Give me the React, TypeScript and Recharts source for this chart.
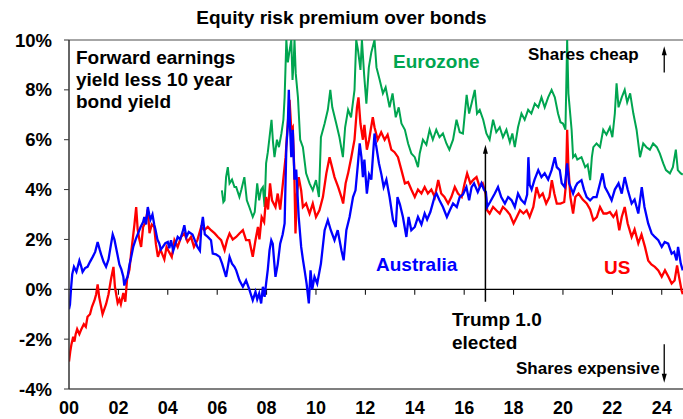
import React from "react";
import { LineChart, Line, XAxis, YAxis, ReferenceLine, ReferenceDot } from "recharts";

// ---- data (decimal year, % premium) ----
const australia: [number, number][] = [
  [2000.0, -0.8], [2000.04, -0.6], [2000.08, 0.0], [2000.13, 0.6], [2000.2, 0.9], [2000.3, 0.7], [2000.42, 1.15], [2000.5, 0.9],
  [2000.55, 0.7], [2000.65, 0.85], [2000.75, 0.9], [2000.85, 1.1], [2000.96, 1.3], [2001.06, 1.5], [2001.16, 1.9], [2001.24, 1.6],
  [2001.3, 1.4], [2001.4, 1.1], [2001.5, 0.9], [2001.6, 1.2], [2001.7, 1.8], [2001.77, 2.2], [2001.84, 2.0], [2001.9, 1.7],
  [2002.04, 1.0], [2002.12, 0.8], [2002.2, 0.5], [2002.24, 0.15], [2002.3, 0.35], [2002.37, 0.5], [2002.45, 1.0], [2002.5, 1.2],
  [2002.6, 1.7], [2002.7, 2.0], [2002.78, 2.2], [2002.9, 2.5], [2003.0, 2.7], [2003.05, 2.9], [2003.12, 2.6], [2003.19, 3.3],
  [2003.25, 3.0], [2003.3, 2.8], [2003.38, 3.0], [2003.45, 2.6], [2003.5, 2.4], [2003.58, 2.0], [2003.65, 1.85], [2003.72, 1.6],
  [2003.8, 1.7], [2003.9, 1.85], [2004.0, 1.9], [2004.06, 1.65], [2004.13, 1.97], [2004.22, 1.55], [2004.3, 1.8], [2004.4, 2.1],
  [2004.5, 2.0], [2004.6, 2.3], [2004.67, 2.57], [2004.75, 2.1], [2004.85, 2.3], [2005.0, 2.2], [2005.1, 1.95], [2005.2, 1.7],
  [2005.3, 1.55], [2005.36, 2.5], [2005.42, 2.9], [2005.5, 2.2], [2005.62, 2.1], [2005.75, 1.97], [2005.82, 1.43], [2005.95, 1.4],
  [2006.1, 1.3], [2006.2, 1.03], [2006.3, 0.7], [2006.36, 0.5], [2006.43, 0.9], [2006.5, 1.3], [2006.6, 1.03], [2006.7, 0.9],
  [2006.77, 0.76], [2006.9, 0.36], [2007.04, 0.1], [2007.17, 0.36], [2007.3, 0.0], [2007.44, -0.44], [2007.55, -0.1], [2007.62, -0.4],
  [2007.7, -0.17], [2007.78, -0.57], [2007.85, 0.1], [2007.92, -0.3], [2007.98, 0.23], [2008.05, 0.8], [2008.12, 1.57], [2008.19, 1.97],
  [2008.25, 1.83], [2008.3, 1.2], [2008.36, 0.5], [2008.45, 1.0], [2008.55, 1.83], [2008.65, 2.2], [2008.73, 2.64], [2008.8, 5.7],
  [2008.86, 6.6], [2008.9, 8.0], [2008.95, 6.5], [2009.0, 5.3], [2009.06, 6.4], [2009.13, 4.4], [2009.2, 4.8], [2009.3, 2.9],
  [2009.4, 1.7], [2009.47, 1.2], [2009.54, 0.76], [2009.62, 0.23], [2009.71, -0.57], [2009.78, 0.76], [2009.85, 0.0], [2009.94, 0.5],
  [2010.05, 0.23], [2010.2, 1.03], [2010.35, 2.37], [2010.48, 2.77], [2010.6, 2.37], [2010.75, 1.97], [2010.88, 2.37], [2011.03, 1.57],
  [2011.12, 1.16], [2011.23, 2.37], [2011.36, 2.9], [2011.5, 3.7], [2011.6, 3.97], [2011.7, 5.05], [2011.77, 5.85], [2011.84, 5.3],
  [2011.9, 4.5], [2011.96, 5.2], [2012.06, 3.84], [2012.15, 4.6], [2012.24, 4.4], [2012.37, 6.25], [2012.43, 5.8], [2012.55, 5.05],
  [2012.65, 4.6], [2012.74, 4.1], [2012.85, 4.4], [2012.98, 3.7], [2013.12, 2.77], [2013.23, 2.5], [2013.3, 3.7], [2013.4, 3.4],
  [2013.52, 2.9], [2013.66, 2.1], [2013.75, 2.9], [2013.86, 2.37], [2014.0, 2.5], [2014.13, 2.9], [2014.27, 2.6], [2014.4, 3.04],
  [2014.5, 2.8], [2014.63, 3.1], [2014.8, 3.7], [2014.88, 3.84], [2015.0, 3.57], [2015.14, 3.3], [2015.3, 2.9], [2015.42, 3.17],
  [2015.55, 3.44], [2015.7, 3.3], [2015.82, 3.7], [2015.95, 3.8], [2016.09, 4.1], [2016.2, 3.57], [2016.3, 4.1], [2016.4, 4.25],
  [2016.55, 3.9], [2016.7, 4.25], [2016.8, 4.0], [2016.88, 3.9], [2016.93, 3.3], [2017.05, 3.5], [2017.24, 3.84], [2017.37, 4.1],
  [2017.5, 3.7], [2017.65, 3.44], [2017.78, 3.7], [2017.92, 3.57], [2018.05, 3.3], [2018.18, 3.84], [2018.3, 3.6], [2018.45, 3.44],
  [2018.55, 3.8], [2018.6, 5.3], [2018.65, 4.2], [2018.73, 4.0], [2018.85, 4.4], [2019.0, 4.78], [2019.13, 4.5], [2019.26, 4.65],
  [2019.4, 4.4], [2019.54, 4.78], [2019.67, 5.3], [2019.75, 4.9], [2019.87, 4.78], [2019.95, 4.25], [2020.07, 4.1], [2020.17, 5.05],
  [2020.25, 4.25], [2020.35, 4.0], [2020.41, 3.84], [2020.5, 4.1], [2020.58, 4.25], [2020.75, 4.38], [2020.85, 4.0], [2020.96, 3.7],
  [2021.1, 3.57], [2021.23, 3.7], [2021.36, 3.7], [2021.5, 4.25], [2021.6, 4.65], [2021.7, 4.1], [2021.84, 3.84], [2021.97, 3.57],
  [2022.1, 4.0], [2022.25, 4.25], [2022.38, 3.84], [2022.5, 4.5], [2022.62, 4.0], [2022.78, 3.44], [2022.9, 3.6], [2023.05, 3.04],
  [2023.19, 4.1], [2023.3, 3.3], [2023.45, 2.64], [2023.59, 2.24], [2023.72, 2.1], [2023.86, 1.97], [2024.0, 1.7], [2024.12, 1.9],
  [2024.26, 1.83], [2024.4, 1.43], [2024.5, 1.5], [2024.6, 1.16], [2024.66, 1.7], [2024.77, 1.03], [2024.85, 0.76],
];

const us: [number, number][] = [
  [2000.0, -2.9], [2000.05, -2.5], [2000.1, -2.2], [2000.17, -1.9], [2000.22, -2.1], [2000.27, -1.8], [2000.33, -1.6], [2000.42, -1.8],
  [2000.5, -1.6], [2000.6, -1.4], [2000.68, -1.5], [2000.75, -1.1], [2000.85, -1.0], [2000.93, -0.7], [2001.03, -0.45], [2001.1, -0.2],
  [2001.16, 0.2], [2001.22, -0.3], [2001.3, -0.7], [2001.36, -1.0], [2001.43, -0.8], [2001.5, -0.6], [2001.6, -0.2], [2001.7, 0.4],
  [2001.8, 0.9], [2001.86, 0.1], [2001.97, -0.55], [2002.04, -0.4], [2002.1, -0.6], [2002.2, -0.15], [2002.28, -0.5], [2002.35, 0.4],
  [2002.45, 0.8], [2002.52, 1.5], [2002.58, 2.0], [2002.65, 2.6], [2002.72, 3.3], [2002.78, 2.4], [2002.85, 2.0], [2002.92, 1.7],
  [2003.0, 2.5], [2003.1, 2.7], [2003.19, 3.2], [2003.26, 2.25], [2003.35, 2.6], [2003.45, 2.5], [2003.52, 1.8], [2003.6, 1.3],
  [2003.7, 1.6], [2003.86, 1.2], [2003.95, 1.7], [2004.05, 1.5], [2004.16, 1.3], [2004.27, 1.97], [2004.4, 1.7], [2004.54, 2.1],
  [2004.67, 2.24], [2004.8, 1.9], [2004.94, 2.1], [2005.06, 1.7], [2005.2, 1.97], [2005.35, 2.5], [2005.48, 2.37], [2005.62, 2.5],
  [2005.75, 2.37], [2005.9, 2.24], [2006.03, 2.1], [2006.16, 1.97], [2006.3, 1.57], [2006.4, 1.97], [2006.5, 2.24], [2006.63, 2.0],
  [2006.77, 2.1], [2006.9, 2.24], [2007.04, 2.37], [2007.17, 1.97], [2007.3, 1.97], [2007.44, 1.3], [2007.55, 1.97], [2007.65, 2.5],
  [2007.71, 2.0], [2007.8, 2.9], [2007.9, 2.7], [2007.98, 3.7], [2008.06, 3.2], [2008.14, 4.25], [2008.22, 3.57], [2008.36, 3.3],
  [2008.45, 3.84], [2008.55, 3.2], [2008.66, 4.25], [2008.77, 5.3], [2008.84, 6.4], [2008.93, 7.6], [2009.0, 6.4], [2009.06, 6.5],
  [2009.12, 4.8], [2009.17, 2.24], [2009.22, 3.7], [2009.3, 4.5], [2009.4, 3.97], [2009.47, 3.3], [2009.6, 3.44], [2009.74, 3.04],
  [2009.87, 3.44], [2010.0, 2.9], [2010.14, 3.17], [2010.28, 3.7], [2010.42, 4.65], [2010.55, 5.3], [2010.65, 4.9], [2010.75, 4.5],
  [2010.9, 4.1], [2011.03, 3.7], [2011.1, 3.44], [2011.2, 4.25], [2011.3, 4.65], [2011.43, 5.3], [2011.56, 6.0], [2011.66, 7.3],
  [2011.72, 7.7], [2011.8, 6.65], [2011.9, 6.0], [2011.96, 6.6], [2012.06, 5.6], [2012.15, 6.0], [2012.3, 6.9], [2012.37, 6.5],
  [2012.5, 6.0], [2012.64, 6.3], [2012.78, 6.0], [2012.9, 6.2], [2013.05, 5.6], [2013.18, 5.5], [2013.32, 5.3], [2013.46, 4.78],
  [2013.6, 4.25], [2013.73, 4.3], [2013.86, 4.0], [2014.0, 3.7], [2014.13, 4.0], [2014.27, 3.84], [2014.4, 4.1], [2014.53, 3.84],
  [2014.67, 4.0], [2014.81, 3.7], [2014.95, 4.38], [2015.07, 3.84], [2015.2, 3.7], [2015.35, 3.44], [2015.48, 3.7], [2015.62, 4.1],
  [2015.75, 3.84], [2015.9, 3.7], [2016.02, 4.25], [2016.12, 4.65], [2016.25, 4.25], [2016.38, 4.4], [2016.5, 4.5], [2016.63, 4.1],
  [2016.75, 4.25], [2016.87, 3.84], [2016.93, 3.17], [2017.03, 3.04], [2017.17, 3.3], [2017.3, 3.17], [2017.44, 3.04], [2017.57, 3.3],
  [2017.71, 3.17], [2017.85, 3.0], [2018.0, 2.64], [2018.13, 2.9], [2018.26, 3.17], [2018.4, 3.04], [2018.53, 3.17], [2018.65, 2.9],
  [2018.8, 3.3], [2018.93, 4.1], [2019.05, 3.7], [2019.18, 3.84], [2019.32, 3.44], [2019.45, 3.7], [2019.55, 4.38], [2019.65, 3.84],
  [2019.75, 3.44], [2019.9, 3.44], [2020.05, 3.5], [2020.12, 4.2], [2020.17, 6.4], [2020.22, 4.9], [2020.3, 3.7], [2020.41, 3.04],
  [2020.5, 3.7], [2020.63, 3.84], [2020.8, 3.6], [2020.96, 3.44], [2021.1, 3.2], [2021.23, 2.77], [2021.37, 2.9], [2021.5, 3.3],
  [2021.64, 3.04], [2021.77, 3.04], [2021.9, 3.1], [2022.04, 2.9], [2022.16, 3.1], [2022.28, 2.37], [2022.38, 2.9], [2022.5, 3.3],
  [2022.62, 2.64], [2022.78, 2.1], [2022.9, 2.4], [2023.05, 1.84], [2023.18, 2.2], [2023.32, 1.7], [2023.45, 1.16], [2023.58, 1.0],
  [2023.72, 0.9], [2023.86, 0.76], [2024.0, 0.5], [2024.13, 0.76], [2024.27, 0.5], [2024.4, 0.23], [2024.52, 0.35], [2024.62, 0.96],
  [2024.7, 0.5], [2024.8, -0.04], [2024.85, -0.2],
];

const eurozone: [number, number][] = [
  [2006.19, 3.97], [2006.25, 3.5], [2006.3, 3.57], [2006.36, 4.5], [2006.43, 4.9], [2006.5, 4.25], [2006.6, 4.4], [2006.7, 4.1],
  [2006.77, 4.1], [2006.9, 3.7], [2006.98, 4.0], [2007.1, 4.5], [2007.2, 3.57], [2007.3, 3.3], [2007.44, 2.9], [2007.52, 3.1],
  [2007.62, 4.25], [2007.7, 3.57], [2007.78, 4.0], [2007.85, 4.1], [2007.92, 3.3], [2007.98, 5.05], [2008.05, 5.5], [2008.12, 6.1],
  [2008.2, 6.8], [2008.26, 5.9], [2008.32, 5.3], [2008.42, 6.0], [2008.5, 5.7], [2008.6, 6.25], [2008.68, 6.8], [2008.73, 7.7],
  [2008.8, 10.0], [2008.86, 9.1], [2008.92, 9.5], [2009.0, 10.0], [2009.05, 8.4], [2009.1, 9.2], [2009.13, 10.0], [2009.18, 8.66],
  [2009.27, 7.7], [2009.36, 6.0], [2009.47, 5.7], [2009.6, 4.65], [2009.74, 4.25], [2009.87, 3.97], [2010.0, 4.38], [2010.12, 3.7],
  [2010.2, 6.1], [2010.35, 6.65], [2010.48, 7.2], [2010.58, 8.0], [2010.66, 7.3], [2010.82, 6.65], [2010.95, 6.1], [2011.09, 5.3],
  [2011.18, 6.5], [2011.3, 7.2], [2011.42, 6.9], [2011.56, 8.0], [2011.63, 10.0], [2011.7, 9.6], [2011.8, 8.8], [2011.86, 10.0],
  [2011.95, 8.6], [2012.04, 7.45], [2012.14, 8.9], [2012.24, 9.5], [2012.37, 10.0], [2012.45, 8.9], [2012.58, 8.4], [2012.71, 7.86],
  [2012.82, 8.1], [2012.98, 7.3], [2013.1, 7.86], [2013.23, 6.9], [2013.35, 7.3], [2013.46, 6.65], [2013.6, 6.4], [2013.73, 5.85],
  [2013.86, 5.45], [2014.0, 5.3], [2014.13, 4.9], [2014.2, 5.45], [2014.33, 6.0], [2014.47, 5.8], [2014.6, 6.4], [2014.73, 6.0],
  [2014.87, 6.4], [2015.0, 6.1], [2015.14, 6.25], [2015.28, 5.85], [2015.4, 5.6], [2015.55, 6.0], [2015.69, 6.8], [2015.82, 6.3],
  [2015.95, 6.25], [2016.1, 7.8], [2016.2, 7.05], [2016.3, 7.45], [2016.43, 8.0], [2016.52, 7.05], [2016.63, 7.2], [2016.77, 6.8],
  [2016.9, 6.25], [2017.03, 6.0], [2017.17, 6.8], [2017.3, 6.3], [2017.44, 6.5], [2017.57, 6.1], [2017.71, 6.4], [2017.85, 5.9],
  [2017.95, 6.25], [2018.05, 5.7], [2018.18, 6.5], [2018.32, 7.05], [2018.45, 6.8], [2018.59, 7.2], [2018.72, 7.05], [2018.86, 7.45],
  [2019.0, 7.3], [2019.13, 7.7], [2019.26, 7.3], [2019.4, 7.7], [2019.54, 8.0], [2019.67, 7.7], [2019.8, 7.05], [2019.9, 6.7],
  [2020.0, 6.65], [2020.1, 6.4], [2020.17, 10.0], [2020.22, 7.86], [2020.35, 6.4], [2020.41, 5.3], [2020.5, 5.4], [2020.58, 5.2],
  [2020.75, 5.3], [2020.9, 4.9], [2021.0, 5.0], [2021.1, 4.38], [2021.17, 5.3], [2021.23, 5.7], [2021.36, 5.85], [2021.5, 5.7],
  [2021.63, 6.4], [2021.76, 6.2], [2021.9, 6.5], [2022.0, 6.1], [2022.1, 7.05], [2022.17, 8.26], [2022.25, 7.3], [2022.38, 7.7],
  [2022.5, 8.0], [2022.6, 7.5], [2022.72, 7.86], [2022.85, 7.05], [2022.98, 6.4], [2023.12, 5.3], [2023.25, 5.85], [2023.38, 5.7],
  [2023.52, 5.6], [2023.65, 5.85], [2023.8, 5.7], [2023.92, 5.45], [2024.06, 5.05], [2024.17, 4.78], [2024.33, 4.65], [2024.45, 4.9],
  [2024.57, 5.6], [2024.65, 4.78], [2024.77, 4.65], [2024.85, 4.6],
];

const xTicks = [2000, 2002, 2004, 2006, 2008, 2010, 2012, 2014, 2016, 2018, 2020, 2022, 2024];
const yTicks = [-4, -2, 0, 2, 4, 6, 8, 10];
const trumpElected = 2016.86;
const cheapArrowX = 2024.1;

const GREEN = "#00A550";
const BLUE = "#0000FF";
const RED = "#FF0000";
const FONT = "'Liberation Sans', Arial, sans-serif";

const toRows = (arr: [number, number][]) => arr.map(([t, v]) => ({ t, v }));

const yTickStyle = { fontFamily: FONT, fontWeight: 700, fontSize: 18.5, fill: "#000" };
const xTickStyle = { fontFamily: FONT, fontWeight: 700, fontSize: 18, fill: "#000" };

const ArrowHead = (dir: "up" | "down") => (p: any) => {
  const { cx, cy } = p;
  const h = dir === "up" ? 9 : -9;
  return <polygon points={`${cx},${cy} ${cx - 2.5},${cy + h} ${cx + 2.5},${cy + h}`} fill="#000" />;
};

const txt = (extra: React.CSSProperties): React.CSSProperties => ({
  position: "absolute",
  fontFamily: FONT,
  fontWeight: 700,
  fontSize: 19,
  whiteSpace: "nowrap",
  ...extra,
});

export default function App() {
  return (
    <div style={{ position: "absolute", left: 0, top: 0, width: 683, height: 419, overflow: "hidden", background: "#fff" }}>
      <LineChart width={683} height={419} margin={{ top: 40, right: 0, bottom: 0, left: 0 }}>
        <XAxis
          type="number"
          dataKey="t"
          domain={[2000, 2024.86]}
          allowDataOverflow
          ticks={xTicks}
          tickFormatter={(y: number) => String(y % 100).padStart(2, "0")}
          axisLine={false}
          tickLine={false}
          tickSize={6}
          tickMargin={6}
          height={30}
          tick={xTickStyle}
          interval={0}
        />
        <YAxis
          type="number"
          domain={[-4, 10]}
          allowDataOverflow
          ticks={yTicks}
          tickFormatter={(v: number) => `${v}%`}
          width={69}
          axisLine={{ stroke: "#333", strokeWidth: 1.5 }}
          tickLine={{ stroke: "#333" }}
          tickSize={5}
          tickMargin={12}
          tick={yTickStyle}
          interval={0}
        />
        <ReferenceLine y={10} stroke="#888" strokeWidth={1.5} />
        <ReferenceLine y={-4} stroke="#555" strokeWidth={1.5} />
        <ReferenceLine y={0} stroke="#000" strokeWidth={1.2} />
        {xTicks.slice(1).map((t) => (
          <ReferenceLine key={t} segment={[{ x: t, y: 0 }, { x: t, y: -0.22 }]} stroke="#000" strokeWidth={1} />
        ))}
        <Line data={toRows(eurozone)} dataKey="v" stroke={GREEN} strokeWidth={2} dot={false} isAnimationActive={false} />
        <Line data={toRows(us)} dataKey="v" stroke={RED} strokeWidth={2.3} dot={false} isAnimationActive={false} />
        <Line data={toRows(australia)} dataKey="v" stroke={BLUE} strokeWidth={2.3} dot={false} isAnimationActive={false} />
        <ReferenceLine segment={[{ x: trumpElected, y: -0.5 }, { x: trumpElected, y: 5.5 }]} stroke="#000" strokeWidth={1.5} />
        <ReferenceDot x={trumpElected} y={5.8} r={0} shape={ArrowHead("up")} />
        <ReferenceLine segment={[{ x: cheapArrowX, y: 8.7 }, { x: cheapArrowX, y: 9.5 }]} stroke="#000" strokeWidth={1.3} />
        <ReferenceDot x={cheapArrowX} y={9.75} r={0} shape={ArrowHead("up")} />
        <ReferenceLine segment={[{ x: cheapArrowX, y: -2.2 }, { x: cheapArrowX, y: -3.45 }]} stroke="#000" strokeWidth={1.3} />
        <ReferenceDot x={cheapArrowX} y={-3.75} r={0} shape={ArrowHead("down")} />
      </LineChart>

      <div style={txt({ left: 0, width: 683, top: 8, lineHeight: "20px", textAlign: "center" })}>
        Equity risk premium over bonds
      </div>
      <div style={txt({ left: 76, top: 47, lineHeight: "22px" })}>
        Forward earnings
        <br />
        yield less 10 year
        <br />
        bond yield
      </div>
      <div style={txt({ left: 393, top: 51, lineHeight: "22px", color: GREEN })}>Eurozone</div>
      <div style={txt({ left: 528, top: 45, lineHeight: "20px", fontSize: 17 })}>Shares cheap</div>
      <div style={txt({ left: 376, top: 254, lineHeight: "22px", color: BLUE })}>Australia</div>
      <div style={txt({ left: 604, top: 257, lineHeight: "22px", color: RED })}>US</div>
      <div style={txt({ left: 452, top: 308, lineHeight: "23px" })}>
        Trump 1.0
        <br />
        elected
      </div>
      <div style={txt({ left: 516, top: 359, lineHeight: "20px", fontSize: 17 })}>Shares expensive</div>
    </div>
  );
}
